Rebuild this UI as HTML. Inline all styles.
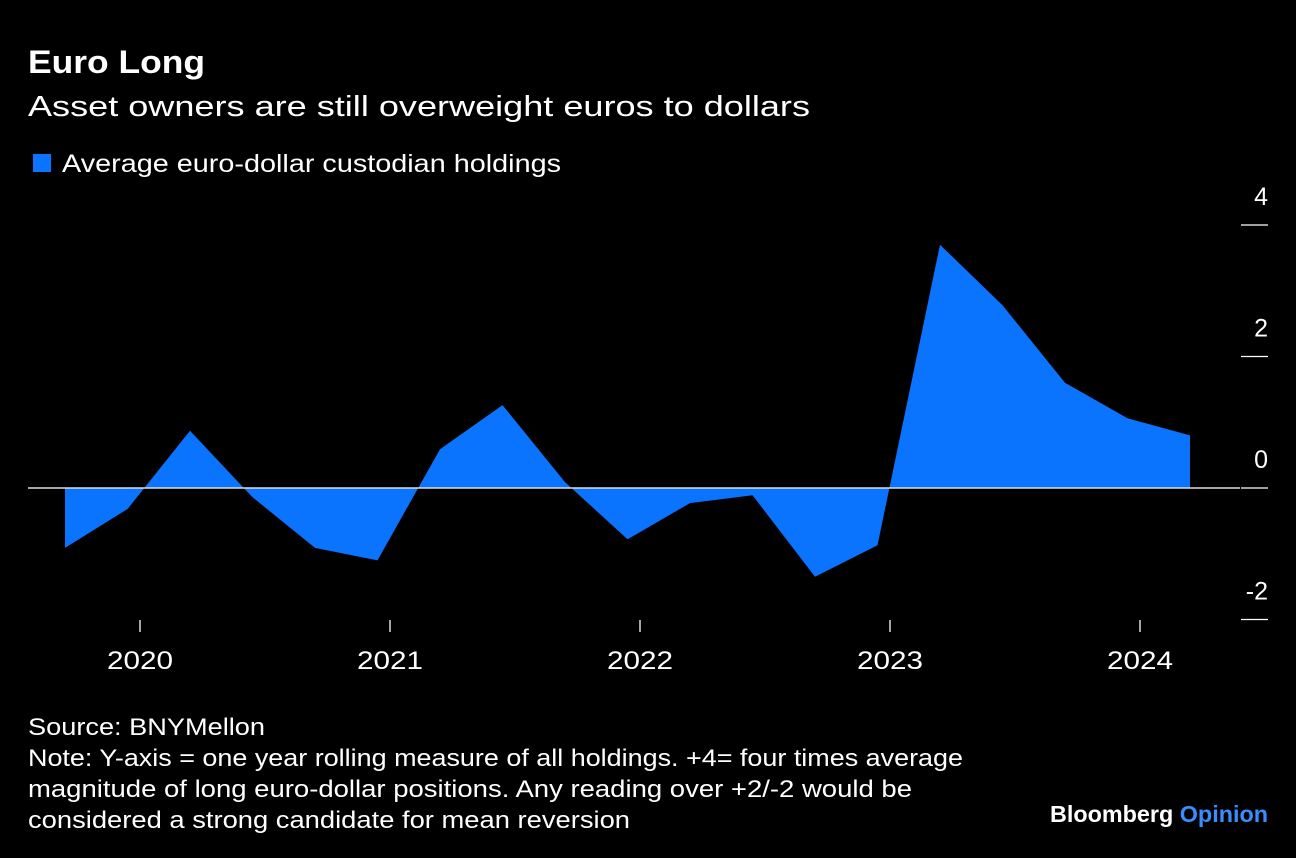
<!DOCTYPE html>
<html><head><meta charset="utf-8">
<style>
body{margin:0;background:#000;width:1296px;height:858px;overflow:hidden;font-family:"Liberation Sans",Arial,sans-serif;color:#fff}
svg{position:absolute;left:0;top:0}
</style></head>
<body>
<svg id="chart" width="1296" height="858" xmlns="http://www.w3.org/2000/svg">
<text x="28" y="73" font-size="32" font-weight="bold" fill="#fff" font-family="Liberation Sans, sans-serif" textLength="177" lengthAdjust="spacingAndGlyphs">Euro Long</text>
<text x="28" y="116" font-size="29" fill="#fff" font-family="Liberation Sans, sans-serif" textLength="782" lengthAdjust="spacingAndGlyphs">Asset owners are still overweight euros to dollars</text>
<rect x="33" y="154" width="18" height="18" fill="#0a74ff"/>
<text x="62" y="172" font-size="25" fill="#fff" font-family="Liberation Sans, sans-serif" textLength="499" lengthAdjust="spacingAndGlyphs">Average euro-dollar custodian holdings</text>
<g id="plot"></g>
<text x="28" y="735" font-size="24" fill="#fff" font-family="Liberation Sans, sans-serif" textLength="237" lengthAdjust="spacingAndGlyphs">Source: BNYMellon</text>
<text x="28" y="766" font-size="24" fill="#fff" font-family="Liberation Sans, sans-serif" textLength="935" lengthAdjust="spacingAndGlyphs">Note: Y-axis = one year rolling measure of all holdings. +4= four times average</text>
<text x="28" y="797" font-size="24" fill="#fff" font-family="Liberation Sans, sans-serif" textLength="884" lengthAdjust="spacingAndGlyphs">magnitude of long euro-dollar positions. Any reading over +2/-2 would be</text>
<text x="28" y="828" font-size="24" fill="#fff" font-family="Liberation Sans, sans-serif" textLength="602" lengthAdjust="spacingAndGlyphs">considered a strong candidate for mean reversion</text>
<text x="1050" y="822" font-size="23" font-weight="bold" fill="#fff" font-family="Liberation Sans, sans-serif" textLength="218" lengthAdjust="spacingAndGlyphs">Bloomberg <tspan fill="#3a8dff">Opinion</tspan></text>
</svg>
<script>
const dates=[2019.7,2019.95,2020.2,2020.45,2020.7,2020.95,2021.2,2021.45,2021.7,2021.95,2022.2,2022.45,2022.7,2022.95,2023.2,2023.45,2023.7,2023.95,2024.2];
const values=[-0.91,-0.32,0.87,-0.14,-0.91,-1.1,0.59,1.26,0.09,-0.78,-0.23,-0.11,-1.35,-0.87,3.7,2.78,1.6,1.06,0.8];
const yTicks=[4,2,0,-2];
const xTicks=[2020,2021,2022,2023,2024];
const NS='http://www.w3.org/2000/svg';
const xS=d=>140+(d-2020)*250;
const yS=v=>488-v*65.75;
const g=document.getElementById('plot');
function mk(t,a){const e=document.createElementNS(NS,t);for(const k in a)e.setAttribute(k,a[k]);g.appendChild(e);return e;}
let p='M'+xS(dates[0])+','+yS(0);
dates.forEach((d,i)=>{p+=' L'+xS(d)+','+yS(values[i]);});
p+=' L'+xS(dates[dates.length-1])+','+yS(0)+' Z';
const area=mk('path',{d:p,fill:'#0a74ff'});


const zl=mk('line',{x1:28,x2:1240,y1:yS(0),y2:yS(0),stroke:'#ddd','stroke-width':1.5});


yTicks.forEach(v=>{
const l=mk('line',{x1:1241,x2:1268,y1:yS(v),y2:yS(v),stroke:'#fff','stroke-width':1.3});


const t=mk('text',{x:1268,y:yS(v)-20,'text-anchor':'end','font-size':25,fill:'#fff','font-family':'Liberation Sans, sans-serif'});
t.textContent=v;


});
xTicks.forEach(d=>{
const l=mk('line',{x1:xS(d),x2:xS(d),y1:620,y2:632,stroke:'#fff','stroke-width':1.3});


const t=mk('text',{x:xS(d)-33,y:669,'font-size':25,fill:'#fff','font-family':'Liberation Sans, sans-serif',textLength:66,lengthAdjust:'spacingAndGlyphs'});
t.textContent=d;


});
</script>
</body></html>
